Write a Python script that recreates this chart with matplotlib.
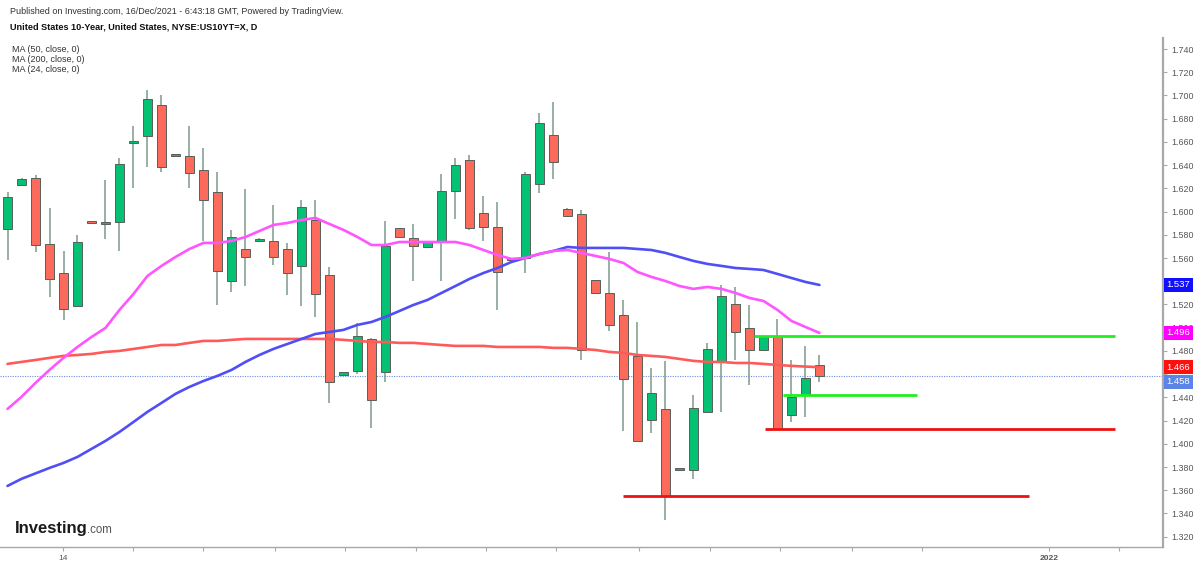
import matplotlib
matplotlib.use('Agg')
import matplotlib.pyplot as plt
import matplotlib.transforms as mtransforms
import numpy as np

plt.rcParams['font.family'] = ['Liberation Sans', 'DejaVu Sans']

# ---------------- data ----------------
opens = [1.585, 1.623, 1.629, 1.572, 1.547, 1.5186, 1.591, 1.589, 1.591, 1.659,
         1.665, 1.692, 1.6475, 1.648, 1.636, 1.617, 1.540, 1.568, 1.5746, 1.575,
         1.568, 1.553, 1.593, 1.545, 1.4595, 1.463, 1.490, 1.462, 1.586, 1.577,
         1.5697, 1.575, 1.618, 1.644, 1.599, 1.587, 1.559, 1.560, 1.624, 1.666,
         1.602, 1.598, 1.541, 1.530, 1.511, 1.476, 1.4205, 1.430, 1.3775, 1.377,
         1.4276, 1.471, 1.520, 1.500, 1.481, 1.493, 1.4248, 1.442, 1.468]
highs = [1.617, 1.629, 1.6315, 1.603, 1.566, 1.5795, 1.591, 1.627, 1.646, 1.674,
         1.705, 1.700, 1.650, 1.674, 1.6545, 1.6343, 1.584, 1.6194, 1.577, 1.6056,
         1.5727, 1.610, 1.610, 1.552, 1.461, 1.504, 1.491, 1.592, 1.586, 1.589,
         1.5735, 1.632, 1.646, 1.649, 1.613, 1.608, 1.559, 1.634, 1.685, 1.694,
         1.603, 1.601, 1.541, 1.565, 1.524, 1.505, 1.465, 1.471, 1.3785, 1.442,
         1.4865, 1.537, 1.535, 1.5195, 1.492, 1.5074, 1.472, 1.484, 1.4764]
lows = [1.558, 1.622, 1.5655, 1.526, 1.507, 1.5186, 1.590, 1.576, 1.566, 1.6205,
        1.6386, 1.634, 1.6473, 1.6205, 1.5746, 1.5195, 1.5304, 1.536, 1.574, 1.554,
        1.528, 1.5186, 1.509, 1.435, 1.459, 1.460, 1.414, 1.453, 1.578, 1.540,
        1.5697, 1.540, 1.594, 1.584, 1.575, 1.515, 1.5577, 1.547, 1.616, 1.628,
        1.596, 1.472, 1.530, 1.497, 1.411, 1.402, 1.409, 1.334, 1.3775, 1.3696,
        1.427, 1.427, 1.472, 1.4506, 1.481, 1.413, 1.4185, 1.4233, 1.4529]
closes = [1.6125, 1.628, 1.571, 1.542, 1.516, 1.5735, 1.590, 1.591, 1.641, 1.661,
          1.697, 1.638, 1.6487, 1.633, 1.610, 1.549, 1.578, 1.561, 1.5763, 1.561,
          1.547, 1.604, 1.529, 1.453, 1.4605, 1.493, 1.438, 1.570, 1.578, 1.570,
          1.5735, 1.618, 1.640, 1.586, 1.587, 1.548, 1.558, 1.632, 1.676, 1.643,
          1.596, 1.481, 1.530, 1.502, 1.4555, 1.402, 1.4434, 1.355, 1.3785, 1.431,
          1.4813, 1.5275, 1.4965, 1.481, 1.492, 1.413, 1.4405, 1.457, 1.458]

ma50 = [1.3637, 1.3698, 1.3745, 1.3792, 1.3835, 1.3887, 1.3956, 1.4025, 1.4102, 1.4188,
        1.4275, 1.4352, 1.4430, 1.4490, 1.4541, 1.4585, 1.4636, 1.4705, 1.4765, 1.4817,
        1.4860, 1.4903, 1.4946, 1.4963, 1.4981, 1.5024, 1.5049, 1.5093, 1.5144, 1.5196,
        1.5239, 1.5299, 1.5359, 1.5420, 1.5471, 1.5514, 1.5566, 1.5601, 1.5635, 1.5661,
        1.5695, 1.5687, 1.5687, 1.5687, 1.5687, 1.5678, 1.5669, 1.5644, 1.5609, 1.5575,
        1.5549, 1.5532, 1.5514, 1.5506, 1.5497, 1.5463, 1.5428, 1.5394, 1.5368]
ma200 = [1.4688, 1.4705, 1.4722, 1.4740, 1.4757, 1.4765, 1.4774, 1.4791, 1.4800, 1.4817,
         1.4834, 1.4851, 1.4851, 1.4869, 1.4886, 1.4886, 1.4895, 1.4903, 1.4903, 1.4903,
         1.4903, 1.4903, 1.4903, 1.4903, 1.4895, 1.4886, 1.4877, 1.4877, 1.4869, 1.4869,
         1.4860, 1.4851, 1.4843, 1.4843, 1.4843, 1.4834, 1.4834, 1.4834, 1.4834, 1.4826,
         1.4826, 1.4817, 1.4808, 1.4791, 1.4783, 1.4765, 1.4757, 1.4748, 1.4731, 1.4714,
         1.4705, 1.4705, 1.4696, 1.4696, 1.4688, 1.4679, 1.4671, 1.4665, 1.4660]
ma24 = [1.4300, 1.4404, 1.4524, 1.4636, 1.4740, 1.4834, 1.4920, 1.4998, 1.5153, 1.5291,
        1.5446, 1.5532, 1.5609, 1.5678, 1.5730, 1.5730, 1.5747, 1.5781, 1.5833, 1.5885,
        1.5902, 1.5928, 1.5945, 1.5893, 1.5842, 1.5781, 1.5712, 1.5712, 1.5738, 1.5738,
        1.5738, 1.5738, 1.5738, 1.5712, 1.5669, 1.5626, 1.5592, 1.5601, 1.5635, 1.5661,
        1.5669, 1.5644, 1.5618, 1.5592, 1.5557, 1.5480, 1.5437, 1.5402, 1.5359, 1.5334,
        1.5351, 1.5334, 1.5299, 1.5256, 1.5230, 1.5153, 1.5058, 1.5006, 1.4955]

# horizontal drawn levels: (price, start bar, end bar, colour)
level_prices = [1.4928, 1.4420, 1.4124, 1.3550]
level_starts = [53.3, 55.4, 54.1, 44.0]
level_ends = [79.1, 65.0, 79.1, 73.0]
level_colors = ['#22ee22', '#22ee22', '#ee1111', '#ee1111']

xtick_pos = [3.96, 9.0, 14.0, 19.1, 24.1, 29.2, 34.2, 39.2, 45.1, 50.2, 55.2, 60.3, 65.3, 74.4, 79.4]
xtick_labels = ['14', '', '', '', '', '', '', '', '', '', '', '', '', '2022', '']

ytick_vals = [1.32, 1.34, 1.36, 1.38, 1.40, 1.42, 1.44, 1.46, 1.48, 1.50, 1.52,
              1.54, 1.56, 1.58, 1.60, 1.62, 1.64, 1.66, 1.68, 1.70, 1.72, 1.74]
ytick_labels = ['1.320', '1.340', '1.360', '1.380', '1.400', '1.420', '1.440', '',
                '1.480', '1.500', '1.520', '', '1.560', '1.580', '1.600', '1.620',
                '1.640', '1.660', '1.680', '1.700', '1.720', '1.740']

# ---------------- figure ----------------
W, H = 1200, 566
fig = plt.figure(figsize=(W / 100, H / 100), dpi=100)
fig.patch.set_facecolor('white')
ax = fig.add_axes([0, 19 / H, 1163 / W, 509 / H])
ax.set_facecolor('white')

UP = '#05c174'
DOWN = '#fc6a5c'
EDGE = '#56605a'
WICK = '#7f9a8a'

x = np.arange(len(opens))
o = np.array(opens); c = np.array(closes)
h = np.array(highs); l = np.array(lows)
up = c >= o
ax.vlines(x, l, h, color=WICK, lw=1.1, zorder=3)
body_bottom = np.minimum(o, c)
body_h = np.maximum(np.abs(c - o), 0.0019)
ax.bar(x, body_h, bottom=body_bottom, width=0.62,
       color=np.where(up, UP, DOWN), edgecolor=EDGE, linewidth=0.7, zorder=4)

ax.plot(x, ma200, color='#ff5a5a', lw=1.9, zorder=5, solid_capstyle='round')
ax.plot(x, ma50, color='#4f4ff5', lw=1.9, zorder=5, solid_capstyle='round')
ax.plot(x, ma24, color='#ff55ff', lw=1.9, zorder=5, solid_capstyle='round')

ax.hlines(level_prices, level_starts, level_ends, colors=level_colors, lw=2.0, zorder=6)

ax.axhline(closes[-1], color='#6f8fe0', lw=0.8, ls=(0, (1, 1.2)), zorder=2)

ax.set_xlim(-0.536, 82.54)
ax.set_ylim(1.3111, 1.7495)

for s in ['top', 'left']:
    ax.spines[s].set_visible(False)
ax.spines['right'].set_color('#a8a8a8')
ax.spines['right'].set_linewidth(1.6)
ax.spines['bottom'].set_color('#a8a8a8')
ax.spines['bottom'].set_linewidth(1.0)

ax.yaxis.tick_right()
ax.set_yticks(ytick_vals)
ax.set_yticklabels(ytick_labels)
ax.tick_params(axis='y', direction='out', length=3, width=0.8, color='#a8a8a8',
               labelsize=6.4, labelcolor='#555555', pad=3)
ax.set_xticks(xtick_pos)
ax.set_xticklabels(xtick_labels)
ax.tick_params(axis='x', direction='out', length=3, width=0.8, color='#a8a8a8',
               labelsize=6.0, labelcolor='#555555', pad=3)
for t in ax.get_xticklabels():
    if t.get_text() == '2022':
        t.set_fontweight('bold')

# price labels on right axis
trans = mtransforms.blended_transform_factory(ax.transAxes, ax.transData)
price_tags = [(ma50[-1], '#1010ff', 0), (ma24[-1], '#ff00ff', 0),
              (ma200[-1], '#ff1010', 0), (closes[-1], '#5b84e6', -4)]
for val, col, dy in price_tags:
    ax.annotate('%.3f' % val, xy=(1.0, val), xycoords=trans,
                xytext=(2.5, dy), textcoords='offset points',
                ha='left', va='center', fontsize=6.8, color='white',
                bbox=dict(boxstyle='square,pad=0.3', fc=col, ec='none'),
                zorder=10, annotation_clip=False)

# header texts
def px(xp, yp):
    return xp / W, 1 - yp / H

fig.text(*px(10, 12), 'Published on Investing.com, 16/Dec/2021 - 6:43:18 GMT, Powered by TradingView.',
         fontsize=6.5, color='#333333', va='center', ha='left')
fig.text(*px(10, 27), 'United States 10-Year, United States, NYSE:US10YT=X, D',
         fontsize=6.6, color='#111111', va='center', ha='left', fontweight='bold')
fig.text(*px(12, 49), 'MA (50, close, 0)', fontsize=6.5, color='#333333', va='center')
fig.text(*px(12, 59.5), 'MA (200, close, 0)', fontsize=6.5, color='#333333', va='center')
fig.text(*px(12, 70), 'MA (24, close, 0)', fontsize=6.5, color='#333333', va='center')

# Investing.com logo
fig.text(*px(15, 528), 'Investing', fontsize=12, fontweight='bold',
         color='#1a1a1a', va='center', ha='left')
fig.text(*px(87, 530), '.com', fontsize=8.3, color='#555555', va='center', ha='left')

fig.savefig('out.png', dpi=100, facecolor='white')
